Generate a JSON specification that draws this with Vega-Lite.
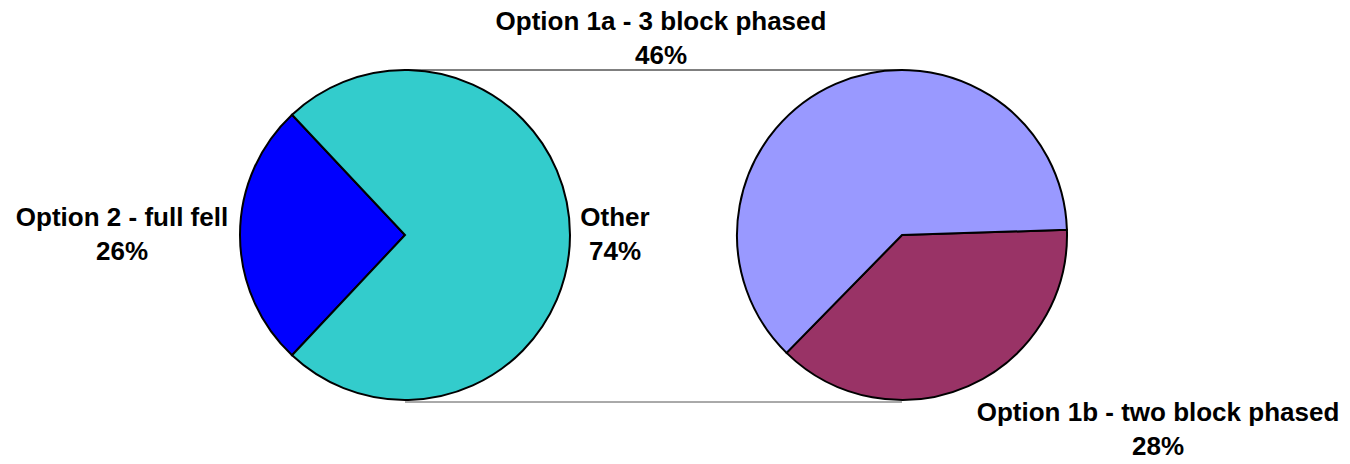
{
  "$schema": "https://vega.github.io/schema/vega-lite/v6.json",
  "width": 1307,
  "height": 470,
  "padding": 0,
  "background": "white",
  "config": {
    "view": {"stroke": null},
    "text": {"font": "Liberation Sans", "fontWeight": "bold", "fontSize": 26, "lineHeight": 34, "color": "black", "lineBreak": "\n"}
  },
  "datasets": {
    "slices": [
      {"pie": "Primary", "category": "Option 2 - full fell", "value": 26, "order": 1},
      {"pie": "Primary", "category": "Other", "value": 74, "order": 2},
      {"pie": "Secondary", "category": "Option 1b - two block phased", "value": 28, "order": 1},
      {"pie": "Secondary", "category": "Option 1a - 3 block phased", "value": 46, "order": 2}
    ],
    "pies": [{"pie": "Primary"}, {"pie": "Secondary"}]
  },
  "encoding": {
    "x": {"field": "pie", "type": "nominal", "scale": {"type": "point", "domain": ["Primary", "Secondary"], "padding": 0.8149}, "axis": null}
  },
  "layer": [
    {
      "data": {"name": "pies"},
      "mark": {"type": "line", "y": {"expr": "height/2 - 165"}, "stroke": "black", "strokeWidth": 1}
    },
    {
      "data": {"name": "pies"},
      "mark": {"type": "line", "y": {"expr": "height/2 + 167"}, "stroke": "#555555", "strokeWidth": 1}
    },
    {
      "data": {"name": "slices"},
      "transform": [{"filter": "datum.pie === 'Primary'"}],
      "mark": {"type": "arc", "radius": 165, "stroke": "black", "strokeWidth": 2},
      "encoding": {
        "theta": {"field": "value", "type": "quantitative", "stack": true, "scale": {"range": [3.8956, 10.1788]}},
        "order": {"field": "order"},
        "color": {"field": "category", "type": "nominal", "legend": null,
          "scale": {"domain": ["Option 2 - full fell", "Other", "Option 1b - two block phased", "Option 1a - 3 block phased"], "range": ["#0000FF", "#33CCCC", "#993366", "#9999FF"]}}
      }
    },
    {
      "data": {"name": "slices"},
      "transform": [{"filter": "datum.pie === 'Secondary'"}],
      "mark": {"type": "arc", "radius": 165, "stroke": "black", "strokeWidth": 2},
      "encoding": {
        "theta": {"field": "value", "type": "quantitative", "stack": true, "scale": {"range": [1.5394, 7.8226]}},
        "order": {"field": "order"},
        "color": {"field": "category", "type": "nominal", "legend": null}
      }
    },
    {
      "data": {"name": "slices"},
      "transform": [{"filter": "datum.category === 'Option 2 - full fell'"}, {"calculate": "datum.category + '\\n' + datum.value + '%'", "as": "lbl"}],
      "mark": {"type": "text", "align": "center", "baseline": "middle", "dx": -283, "dy": -17},
      "encoding": {"text": {"field": "lbl"}}
    },
    {
      "data": {"name": "slices"},
      "transform": [{"filter": "datum.category === 'Other'"}, {"calculate": "datum.category + '\\n' + datum.value + '%'", "as": "lbl"}],
      "mark": {"type": "text", "align": "center", "baseline": "middle", "dx": 210, "dy": -17},
      "encoding": {"text": {"field": "lbl"}}
    },
    {
      "data": {"name": "slices"},
      "transform": [{"filter": "datum.category === 'Option 1a - 3 block phased'"}, {"calculate": "datum.category + '\\n' + datum.value + '%'", "as": "lbl"}],
      "mark": {"type": "text", "align": "center", "baseline": "middle", "dx": -241, "dy": -213},
      "encoding": {"text": {"field": "lbl"}}
    },
    {
      "data": {"name": "slices"},
      "transform": [{"filter": "datum.category === 'Option 1b - two block phased'"}, {"calculate": "datum.category + '\\n' + datum.value + '%'", "as": "lbl"}],
      "mark": {"type": "text", "align": "center", "baseline": "middle", "dx": 256, "dy": 178},
      "encoding": {"text": {"field": "lbl"}}
    }
  ],
  "resolve": {"scale": {"theta": "independent"}}
}
